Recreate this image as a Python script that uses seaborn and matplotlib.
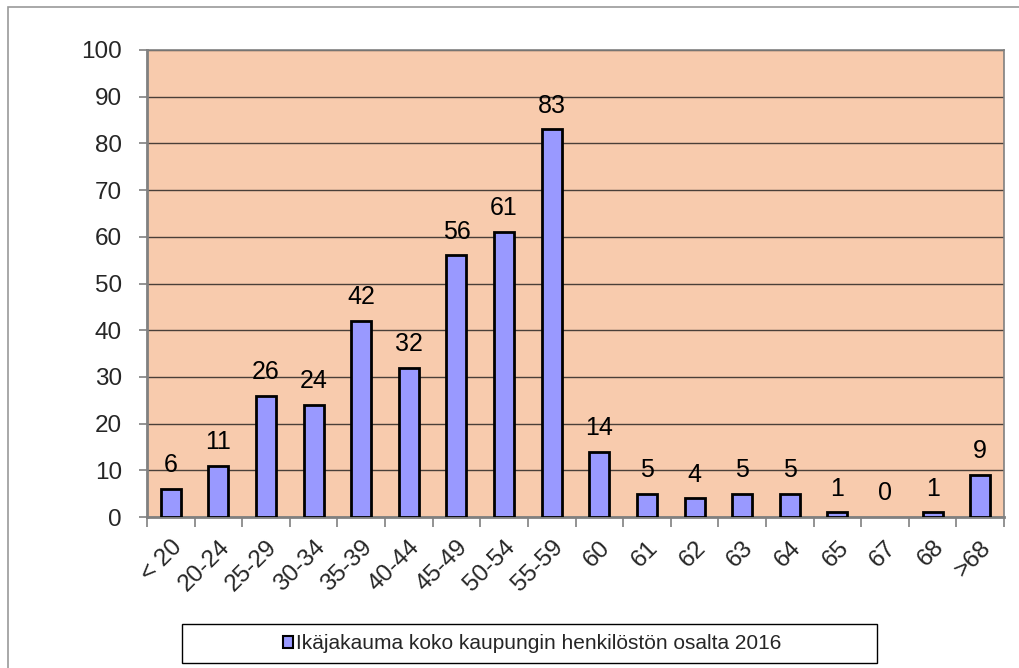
import matplotlib
matplotlib.use("Agg")
import matplotlib.pyplot as plt
from matplotlib.patches import Rectangle, Patch
import pandas as pd
import seaborn as sns

# data
age_groups = ["< 20", "20-24", "25-29", "30-34", "35-39", "40-44", "45-49", "50-54",
              "55-59", "60", "61", "62", "63", "64", "65", "67", "68", ">68"]
counts = [6, 11, 26, 24, 42, 32, 56, 61, 83, 14, 5, 4, 5, 5, 1, 0, 1, 9]
y_ticks = list(range(0, 101, 10))
legend_label = "Ikäjakauma koko kaupungin henkilöstön osalta 2016"

df = pd.DataFrame({"age": age_groups, "count": counts})

sns.set_style("white")
plt.rcParams["font.family"] = ["Liberation Sans", "DejaVu Sans"]

bar_color = "#9999FF"
bg_color = "#F8CBAD"
W, H = 1019, 668

fig = plt.figure(figsize=(W / 100, H / 100), dpi=100)
ax = fig.add_axes([147 / W, 1 - 517 / H, (1004 - 147) / W, (517 - 50) / H])
ax.set_facecolor(bg_color)

sns.barplot(data=df, x="age", y="count", order=age_groups, color=bar_color,
            saturation=1, width=0.42, edgecolor="black", linewidth=2, ax=ax, zorder=3)

# no outline for empty bars
for patch, v in zip(ax.patches, counts):
    if v == 0:
        patch.set_linewidth(0)

# value labels above bars
for i, v in enumerate(counts):
    ax.annotate(str(v), (i, v), xytext=(0, 8.5), textcoords="offset points",
                ha="center", va="bottom", fontsize=18, color="black")

ax.set_ylim(0, 100)
ax.set_xlim(-0.5, len(age_groups) - 0.5)
ax.set_yticks(y_ticks)
ax.tick_params(axis="y", labelsize=17.5, length=6, width=1.2, color="#808080",
               left=True, pad=12)
ax.yaxis.grid(True, color="#4a3f38", linewidth=1)
ax.set_axisbelow(True)

# category labels at bar centres, tick marks at category borders
ax.set_xticks(range(len(age_groups)))
ax.set_xticklabels(age_groups, rotation=45, ha="right", rotation_mode="anchor",
                   fontsize=17.5)
ax.tick_params(axis="x", which="major", length=0, pad=14)
ax.set_xticks([i - 0.5 for i in range(len(age_groups) + 1)], minor=True)
ax.tick_params(axis="x", which="minor", length=7, width=1.2, color="#808080",
               bottom=True)
ax.set_xlabel("")
ax.set_ylabel("")

for s in ["left", "bottom"]:
    ax.spines[s].set_color("#808080")
    ax.spines[s].set_linewidth(2)
for s in ["top", "right"]:
    ax.spines[s].set_color("#808080")
    ax.spines[s].set_linewidth(1.2)

# legend at the bottom, centred inside its own box
handle = Patch(facecolor=bar_color, edgecolor="black", linewidth=1.5)
fig.legend([handle], [legend_label], loc="center",
           bbox_to_anchor=(532 / W, 1 - 643.5 / H), fontsize=15,
           frameon=False, handlelength=0.5, handleheight=0.5,
           handletextpad=0.15, borderpad=0.3)
fig.patches.append(Rectangle((182 / W, 1 - 663 / H), (877 - 182) / W, 39 / H,
                             transform=fig.transFigure, fill=False,
                             edgecolor="black", linewidth=1))

# outer chart border (left and top visible)
fig.patches.append(Rectangle((8 / W, -0.05), 1.2, 1.05 - 7 / H,
                             transform=fig.transFigure, fill=False,
                             edgecolor="#9a9a9a", linewidth=1.2))

fig.savefig("out.png", dpi=100)
